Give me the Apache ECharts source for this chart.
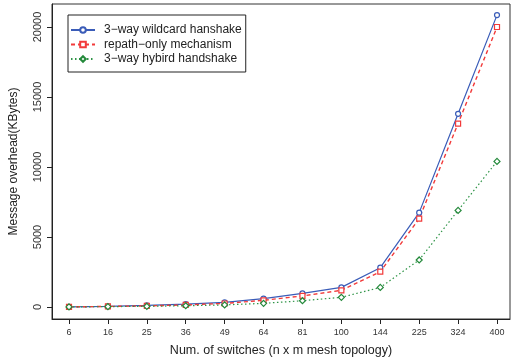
<!DOCTYPE html>
<html><head><meta charset="utf-8">
<script src="https://cdn.jsdelivr.net/npm/echarts@6/dist/echarts.min.js"></script>
<style>html,body{margin:0;padding:0;background:#fff}#c{width:517px;height:362px}</style>
</head><body><div id="c"></div>
<script>
const categories = ['6','16','25','36','49','64','81','100','144','225','324','400'];
const wildcard = [10, 50, 110, 210, 330, 600, 980, 1400, 2810, 6740, 13800, 20850];
const repath = [8, 40, 80, 150, 250, 480, 790, 1190, 2520, 6310, 13100, 20000];
const hybrid = [5, 25, 50, 90, 150, 260, 450, 690, 1400, 3360, 6900, 10400];
const yTicks = [0, 5000, 10000, 15000, 20000];
const seriesNames = ['3\u2212way wildcard hanshake', 'repath\u2212only mechanism', '3\u2212way hybird handshake'];

const font = 'Liberation Sans, Arial, sans-serif';
const pair = arr => arr.map((v, i) => [i, v]);
const chart = echarts.init(document.getElementById('c'), null, {renderer: 'canvas'});
chart.setOption({
  animation: false,
  textStyle: {fontFamily: font},
  grid: {left: 52, top: 4, right: 7, bottom: 43, show: true, borderColor: '#333', borderWidth: 1, backgroundColor: 'transparent'},
  legend: {
    orient: 'vertical', left: 68, top: 15, itemWidth: 24, itemHeight: 7, itemGap: 2.5,
    padding: [9, 4, 7, 2], borderColor: '#222', borderWidth: 1,
    textStyle: {fontSize: 12, color: '#222', fontFamily: font, padding: [0, 0, 0, 4]},
    data: seriesNames
  },
  xAxis: {
    type: 'value', min: -0.437, max: 11.334,
    name: 'Num. of switches (n x m mesh topology)', nameLocation: 'middle', nameGap: 25,
    nameTextStyle: {fontSize: 12.5, color: '#222', fontFamily: font},
    axisLine: {show: true, onZero: false, lineStyle: {color: '#222'}},
    axisTick: {show: true, customValues: categories.map((c, i) => i), length: 5, lineStyle: {color: '#222'}},
    axisLabel: {customValues: categories.map((c, i) => i), formatter: v => categories[Math.round(v)], fontSize: 9, color: '#333', margin: 9},
    splitLine: {show: false}
  },
  yAxis: {
    type: 'value', min: -857, max: 21643,
    name: 'Message overhead(KBytes)', nameLocation: 'middle', nameGap: 32,
    nameTextStyle: {fontSize: 12, color: '#222', fontFamily: font},
    axisLine: {show: true, onZero: false, lineStyle: {color: '#222'}},
    axisTick: {show: true, customValues: yTicks, length: 5, lineStyle: {color: '#222'}},
    axisLabel: {customValues: yTicks, formatter: v => String(v), rotate: 90, fontSize: 11, color: '#333', margin: 9},
    splitLine: {show: false}
  },
  series: [
    {name: seriesNames[0], type: 'line', data: pair(wildcard), symbol: 'circle', symbolSize: 5,
     itemStyle: {color: '#fff', borderColor: '#3a5cb8', borderWidth: 1.2},
     lineStyle: {color: '#3a5cb8', width: 1.2, type: 'solid'}, color: '#3a5cb8'},
    {name: seriesNames[1], type: 'line', data: pair(repath), symbol: 'rect', symbolSize: 5,
     itemStyle: {color: '#fff', borderColor: '#f23a3a', borderWidth: 1.2},
     lineStyle: {color: '#f23a3a', width: 1.4, type: [4, 3]}, color: '#f23a3a'},
    {name: seriesNames[2], type: 'line', data: pair(hybrid), symbol: 'diamond', symbolSize: 6,
     itemStyle: {color: '#fff', borderColor: '#23893a', borderWidth: 1.2},
     lineStyle: {color: '#2f9447', width: 1.2, type: [1.5, 2.5]}, color: '#23893a'}
  ]
});
</script></body></html>
